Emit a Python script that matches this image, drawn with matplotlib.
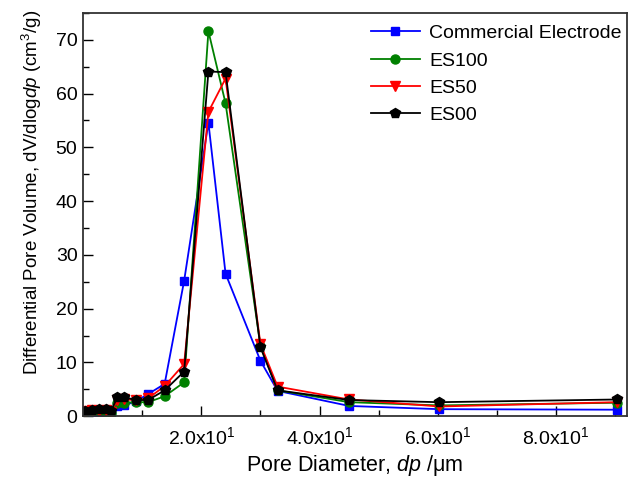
import matplotlib
matplotlib.use("Agg")
import matplotlib.pyplot as plt
from matplotlib.ticker import MultipleLocator, FuncFormatter

plt.rcParams["font.family"] = ["Liberation Sans", "DejaVu Sans"]
plt.rcParams["mathtext.fontset"] = "custom"
plt.rcParams["mathtext.rm"] = "Liberation Sans"
plt.rcParams["mathtext.it"] = "Liberation Sans:italic"

# pore diameters (um)
dp = [0.3, 1.5, 2.7, 3.8, 4.7, 5.8, 7.0, 9.0, 11.0, 13.8, 17.1, 21.2, 24.1, 30.0, 32.9, 45.0, 60.2, 90.3]

commercial = [0.5, 0.6, 0.4, 0.6, 0.3, 1.8, 2.0, 2.8, 4.1, 6.0, 25.2, 54.6, 26.5, 10.3, 4.7, 1.9, 1.3, 1.2]
es100 = [0.8, 0.9, 0.9, 0.8, 0.6, 2.4, 2.5, 2.6, 2.6, 3.7, 6.3, 71.6, 58.2, 13.1, 4.8, 2.6, 2.0, 2.5]
es50 = [1.0, 1.1, 1.0, 1.1, 0.8, 3.0, 3.1, 3.0, 3.3, 5.6, 9.7, 56.6, 62.8, 13.4, 5.5, 3.1, 1.8, 2.6]
es00 = [0.9, 1.2, 1.3, 1.3, 0.9, 3.5, 3.5, 3.0, 3.0, 4.8, 8.3, 64.1, 64.0, 12.8, 4.8, 3.0, 2.6, 3.1]

fig = plt.figure(figsize=(6.29, 4.8), dpi=100)
ax = fig.add_axes([0.132, 0.133, 0.865, 0.84])

ax.plot(dp, commercial, color="blue", marker="s", ms=6, lw=1.3, label="Commercial Electrode")
ax.plot(dp, es100, color="green", marker="o", ms=6.5, lw=1.3, label="ES100")
ax.plot(dp, es50, color="red", marker="v", ms=7, lw=1.3, label="ES50")
ax.plot(dp, es00, color="black", marker="p", ms=7, lw=1.3, label="ES00")

ax.set_xlim(0, 92)
ax.set_ylim(0, 75)
ax.xaxis.set_major_locator(MultipleLocator(20))
ax.xaxis.set_minor_locator(MultipleLocator(10))
ax.yaxis.set_major_locator(MultipleLocator(10))
ax.yaxis.set_minor_locator(MultipleLocator(5))
ax.xaxis.set_major_formatter(FuncFormatter(lambda v, p: "" if v == 0 else "%.1fx10$^1$" % (v / 10)))
ax.tick_params(which="both", direction="in", top=False, right=False, labelsize=14)
ax.tick_params(axis="x", which="major", pad=7)
ax.tick_params(axis="y", which="major", pad=4)
ax.tick_params(which="major", length=7, width=1)
ax.tick_params(which="minor", length=4, width=1)
for s in ax.spines.values():
    s.set_linewidth(1.3)
    s.set_color("#333333")

ax.set_xlabel("Pore Diameter, $dp$ /\u03bcm", fontsize=15.5, labelpad=4)
ax.set_ylabel("Differential Pore Volume, dV/dlog$dp$ (cm$^3$/g)", fontsize=13.5)
ax.yaxis.set_label_coords(-0.072, 0.555)
ax.legend(loc="upper right", bbox_to_anchor=(1.012, 1.0), frameon=False, fontsize=14,
          handlelength=2.5, borderaxespad=0.2, labelspacing=0.5, handletextpad=0.5)

fig.savefig("out.png", dpi=100)
